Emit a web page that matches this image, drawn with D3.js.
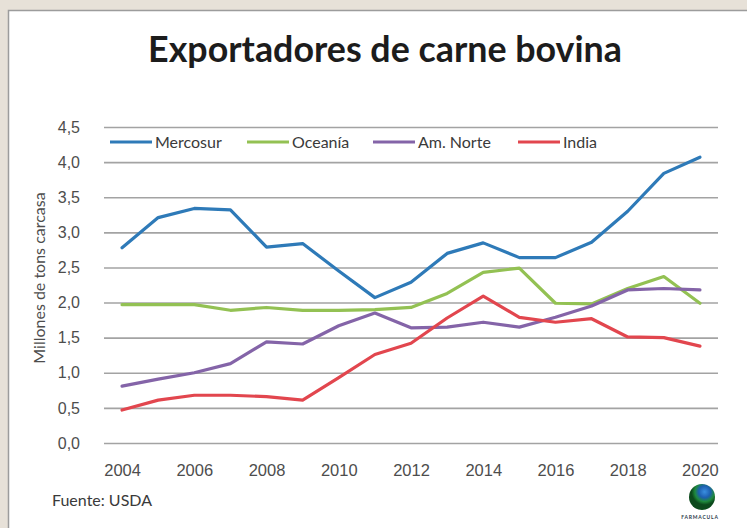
<!DOCTYPE html>
<html>
<head>
<meta charset="utf-8">
<script src="https://cdn.jsdelivr.net/npm/d3@7"></script>
<style>
  html, body { margin: 0; padding: 0; background: #e7e1d8; }
  svg { display: block; font-family: Lato, "Open Sans", sans-serif; }
</style>
</head>
<body>
<div id="chart"></div>
<script>
// data
const years = d3.range(2004, 2021);
const mercosur = [2.78, 3.21, 3.34, 3.32, 2.79, 2.84, 2.45, 2.07, 2.29, 2.70, 2.85, 2.64, 2.64, 2.86, 3.30, 3.84, 4.07];
const oceania  = [1.97, 1.97, 1.97, 1.89, 1.93, 1.89, 1.89, 1.90, 1.93, 2.13, 2.43, 2.49, 1.99, 1.98, 2.20, 2.37, 1.99];
const amNorte  = [0.81, 0.91, 1.00, 1.13, 1.44, 1.41, 1.67, 1.85, 1.64, 1.65, 1.72, 1.65, 1.79, 1.95, 2.18, 2.20, 2.18];
const india    = [0.47, 0.61, 0.68, 0.68, 0.66, 0.61, 0.93, 1.26, 1.42, 1.78, 2.09, 1.79, 1.72, 1.77, 1.51, 1.50, 1.38];
const seriesNames = ['Mercosur', 'Oceanía', 'Am. Norte', 'India'];
const seriesColors = ['#2e7ab8', '#93c153', '#8464a8', '#e2464e'];
const yTicks = d3.range(0, 4.51, 0.5);
const xTickYears = d3.range(2004, 2021, 2);

const width = 747;
const height = 528;
const plot = { left: 104, right: 718, top: 127, bottom: 443 };

const svg = d3.select('#chart')
  .append('svg')
  .attr('width', width)
  .attr('height', height);

// white panel
svg.append('rect')
  .attr('x', 8.5).attr('y', 10.5)
  .attr('width', width).attr('height', height)
  .attr('fill', '#fff')
  .attr('stroke', '#9c9c9c')
  .attr('stroke-width', 1.5);

// title
const title = svg.append('text')
  .attr('x', 385)
  .attr('y', 62)
  .attr('text-anchor', 'middle')
  .style('font-size', '30px')
  .style('font-weight', 'bold')
  .attr('fill', '#1c1c1c')
  .text('Exportadores de carne bovina');
const tl = title.node().getComputedTextLength();
title.style('font-size', (30 * 474 / tl) + 'px');

const xScale = d3.scalePoint()
  .domain(years)
  .range([plot.left, plot.right])
  .padding(0.5);

const yScale = d3.scaleLinear()
  .domain([0, 4.5])
  .range([plot.bottom, plot.top]);

// gridlines + y labels
const yAxis = svg.append('g')
  .attr('transform', `translate(${plot.left}, 0)`)
  .call(d3.axisLeft(yScale)
    .tickValues(yTicks)
    .tickSize(-(plot.right - plot.left))
    .tickPadding(24)
    .tickFormat(d => d3.format('.1f')(d).replace('.', ',')));
yAxis.select('.domain').remove();
yAxis.selectAll('line').attr('stroke', '#a3a3a3').attr('stroke-width', 1.6);
yAxis.selectAll('text').attr('fill', '#4d4d4d').style('font-size', '16px');

// x labels
const xAxis = svg.append('g')
  .attr('transform', `translate(0, ${plot.bottom})`)
  .call(d3.axisBottom(xScale)
    .tickValues(xTickYears)
    .tickSize(0)
    .tickPadding(21));
xAxis.select('.domain').remove();
xAxis.selectAll('text').attr('fill', '#4d4d4d').style('font-size', '16.5px');

// y axis title
svg.append('text')
  .attr('transform', 'rotate(-90)')
  .attr('x', -(plot.top + plot.bottom) / 2 + 7)
  .attr('y', 45)
  .attr('text-anchor', 'middle')
  .attr('fill', '#4d4d4d')
  .style('font-size', '16px')
  .text('Millones de tons carcasa');

// lines
const allSeries = [mercosur, oceania, amNorte, india];
const line = d3.line()
  .x((d, i) => xScale(years[i]))
  .y(d => yScale(d));

svg.selectAll('.series')
  .data(allSeries)
  .enter()
  .append('path')
  .attr('class', 'series')
  .attr('d', line)
  .attr('fill', 'none')
  .attr('stroke', (d, i) => seriesColors[i])
  .attr('stroke-width', 3.2)
  .attr('stroke-linejoin', 'round')
  .attr('stroke-linecap', 'round');

// legend
const legendX = [110, 247, 373, 518];
const legend = svg.append('g');
seriesNames.forEach((name, i) => {
  legend.append('line')
    .attr('x1', legendX[i]).attr('x2', legendX[i] + 42)
    .attr('y1', 142).attr('y2', 142)
    .attr('stroke', seriesColors[i])
    .attr('stroke-width', 3.2);
  legend.append('text')
    .attr('x', legendX[i] + 45)
    .attr('y', 147.5)
    .attr('fill', '#3a3a3a')
    .style('font-size', '16px')
    .text(name);
});

// source
svg.append('text')
  .attr('x', 52)
  .attr('y', 506)
  .attr('fill', '#3a3a3a')
  .style('font-size', '16px')
  .text('Fuente:  USDA');

// small logo bottom right
const grad = svg.append('defs').append('radialGradient')
  .attr('id', 'globe').attr('cx', '60%').attr('cy', '30%');
grad.append('stop').attr('offset', '0%').attr('stop-color', '#3a8fe0');
grad.append('stop').attr('offset', '45%').attr('stop-color', '#1d5fb0');
grad.append('stop').attr('offset', '75%').attr('stop-color', '#1f8a3c');
grad.append('stop').attr('offset', '100%').attr('stop-color', '#0c4a1c');
svg.append('circle')
  .attr('cx', 702).attr('cy', 497).attr('r', 13)
  .attr('fill', 'url(#globe)');
svg.append('text')
  .attr('x', 700).attr('y', 519)
  .attr('text-anchor', 'middle')
  .attr('fill', '#2a3a4a')
  .style('font-size', '5px')
  .style('font-weight', 'bold')
  .style('letter-spacing', '0.8px')
  .text('FARMACULA');
</script>
</body>
</html>
